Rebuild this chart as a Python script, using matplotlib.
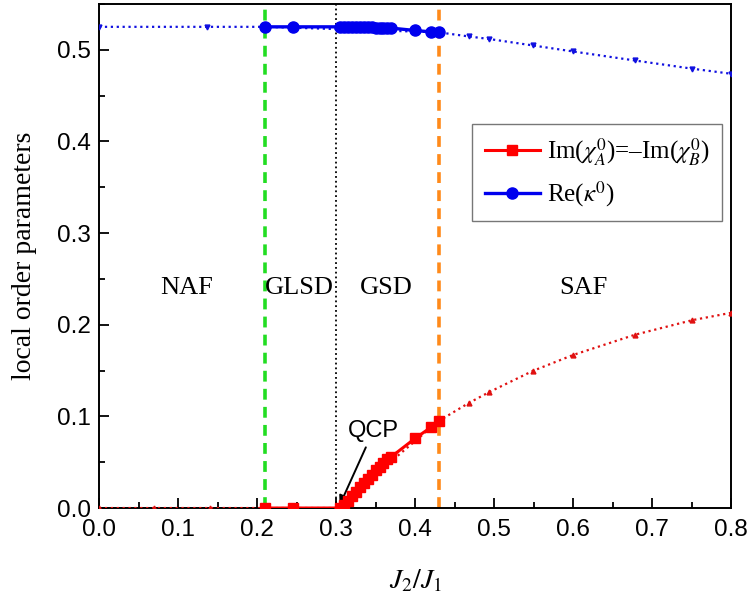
import matplotlib
matplotlib.use('Agg')
import matplotlib.pyplot as plt
from matplotlib.ticker import MultipleLocator

plt.rcParams['mathtext.fontset'] = 'stix'

# Im(chi) along the solid branch (squares)
im_x = [0.21, 0.246, 0.305, 0.31, 0.315, 0.32, 0.325, 0.33, 0.335, 0.34, 0.345,
        0.35, 0.355, 0.36, 0.365, 0.37, 0.40, 0.42, 0.43]
im_y = [0.0, 0.0, 0.0, 0.003, 0.008, 0.013, 0.018, 0.023, 0.027, 0.032, 0.036,
        0.041, 0.045, 0.049, 0.053, 0.056, 0.076, 0.088, 0.095]

# Im(chi) dotted continuation
im_dot_x = [0.0, 0.07, 0.14, 0.21, 0.30, 0.43, 0.468, 0.494, 0.549, 0.60, 0.678, 0.751, 0.80]
im_dot_y = [0.0, 0.0, 0.0, 0.0, 0.0, 0.095, 0.1146, 0.1266, 0.1496, 0.167, 0.189, 0.205, 0.213]

# Re(kappa) along the solid branch (circles)
re_x = [0.21, 0.245, 0.305, 0.31, 0.315, 0.32, 0.325, 0.33, 0.335, 0.34, 0.345,
        0.35, 0.355, 0.36, 0.365, 0.37, 0.40, 0.42, 0.43]
re_y = [0.525, 0.525, 0.525, 0.525, 0.5249, 0.5248, 0.5247, 0.5246, 0.5245, 0.5244, 0.5243,
        0.5242, 0.5241, 0.524, 0.5238, 0.5236, 0.521, 0.5195, 0.519]

# Re(kappa) dotted continuation
re_dot_x = [0.0, 0.137, 0.21, 0.43, 0.468, 0.494, 0.549, 0.60, 0.678, 0.751, 0.80]
re_dot_y = [0.525, 0.525, 0.525, 0.519, 0.5145, 0.5117, 0.5047, 0.4981, 0.4883, 0.4793, 0.4738]

# phase boundaries
x_glsd = 0.21
x_qcp = 0.30
x_saf = 0.43

phase_names = ['NAF', 'GLSD', 'GSD', 'SAF']
phase_x = [0.111, 0.254, 0.364, 0.613]
phase_y = 0.24

fig = plt.figure(figsize=(7.53, 6.03), dpi=100)
ax = fig.add_axes([0.1315, 0.1575, 0.8395, 0.836])

ax.plot(re_dot_x, re_dot_y, color='#1010e0', linestyle=':', linewidth=1.6,
        marker='v', markersize=3.5, zorder=3)
ax.plot(im_dot_x, im_dot_y, color='#e01010', linestyle=':', linewidth=1.6,
        marker='^', markersize=3.5, zorder=3)

ax.axvline(x_glsd, color='#22dd22', linestyle='--', linewidth=2.6, dashes=(3, 2), zorder=2)
ax.axvline(x_qcp, color='black', linestyle=':', linewidth=1.3, zorder=2)
ax.axvline(x_saf, color='#ff8a1a', linestyle='--', linewidth=2.6, dashes=(3, 2), zorder=2)

ax.plot(im_x, im_y, color='#ff0000', linewidth=2.2, marker='s', markersize=6.5,
        zorder=4, label=r'Im($\chi_A^{\mathit{0}}$)=–Im($\chi_B^{\mathit{0}}$)')
ax.plot(re_x, re_y, color='#0000ee', linewidth=2.4, marker='o', markersize=8,
        zorder=4, label=r'Re($\kappa^{\mathit{0}}$)')

for name, px in zip(phase_names, phase_x):
    ax.text(px, phase_y, name, fontsize=19, family='Liberation Serif',
            ha='center', va='center')

ax.annotate('QCP', xy=(0.3045, 0.003), xytext=(0.347, 0.072),
            fontsize=17, family='Liberation Sans', ha='center', va='bottom',
            arrowprops=dict(arrowstyle='-|>', color='black', lw=1.4,
                            shrinkA=2, shrinkB=0, mutation_scale=14))

ax.set_xlim(0.0, 0.8)
ax.set_ylim(0.0, 0.55)
ax.xaxis.set_major_locator(MultipleLocator(0.1))
ax.xaxis.set_minor_locator(MultipleLocator(0.05))
ax.yaxis.set_major_locator(MultipleLocator(0.1))
ax.yaxis.set_minor_locator(MultipleLocator(0.05))
ax.tick_params(which='both', direction='in', top=False, right=False, width=1.3)
ax.tick_params(which='major', length=7, labelsize=17.5)
ax.tick_params(axis='x', which='major', pad=8)
ax.tick_params(axis='y', which='major', pad=6)
ax.tick_params(which='minor', length=4)
for lab in ax.get_xticklabels() + ax.get_yticklabels():
    lab.set_family('Liberation Sans')
for sp in ax.spines.values():
    sp.set_linewidth(1.4)

ax.set_xlabel(r'$J_{\mathit{2}}/J_{\mathit{1}}$', fontsize=20, labelpad=18)
ax.set_ylabel('local order parameters', fontsize=20, family='Liberation Serif', labelpad=14)

leg = ax.legend(loc='upper right', bbox_to_anchor=(0.986, 0.762), fancybox=False,
                prop={'family': 'Liberation Serif', 'size': 18}, handlelength=2.2,
                borderpad=0.5, labelspacing=0.45, handletextpad=0.3, borderaxespad=0)
leg.get_frame().set_edgecolor('#555555')
leg.get_frame().set_linewidth(1.0)

fig.savefig('out.png', dpi=100)
